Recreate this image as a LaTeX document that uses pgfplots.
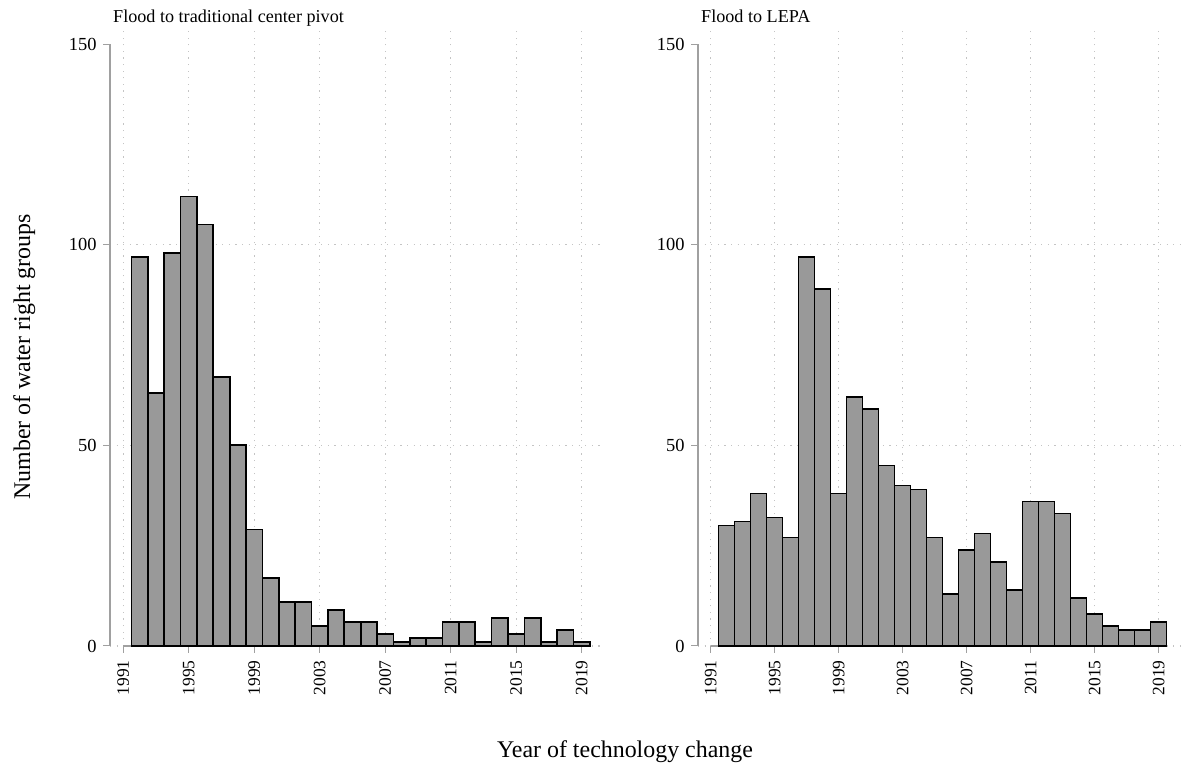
\documentclass[border=0pt]{standalone}
\usepackage{fontspec}
\setmainfont{Liberation Serif}
\usepackage{pgfplots}
\pgfplotsset{compat=1.18}
\definecolor{barfill}{HTML}{999999}
\definecolor{axgray}{HTML}{A0A0A0}
\definecolor{gridgray}{HTML}{C4C4C4}
\pgfplotsset{
 histo/.style={
  scale only axis, height=616bp, anchor=south west,
  ymin=0, ymax=153.5,
  axis line style={draw=none},
  tick pos=left,
  tick align=outside,
  major tick length=7bp,
  tick style={axgray, line width=1bp},
  xtick={1991,1995,...,2019},
  ytick={0,50,100,150},
  xmajorgrids,
  grid style={gridgray, line width=1.1bp, dash pattern=on 1.1bp off 5.5bp},
  extra y ticks={0,50,100}, extra y tick labels={},
  extra y tick style={grid=major, major tick length=0pt},
  xticklabel shift=4bp,
  yticklabel shift=3bp,
  x tick label style={rotate=90, anchor=east, font=\fontsize{17.5}{17.5}\selectfont},
  y tick label style={font=\fontsize{18.5}{18.5}\selectfont},
  /pgf/number format/assume math mode=true,
  /pgf/number format/1000 sep={},
  clip=false,
 },
 bars/.style={ybar, bar width=1, bar shift=0pt, fill=barfill, draw=black, line width=1.7bp},
}
\begin{document}
\begin{tikzpicture}
\useasboundingbox (0bp,0bp) rectangle (1185bp,768bp);
% left panel
\begin{axis}[histo, at={(110bp,122bp)}, width=490bp, xmin=1990.19, xmax=2020.12]
\draw[axgray, line width=1.2bp] (axis cs:1990.19,0) -- (axis cs:1990.19,150);
\draw[axgray, line width=1.2bp] (axis cs:1991,0) -- (axis cs:2019.5,0);
\addplot[bars] coordinates {
(1992,97) (1993,63) (1994,98) (1995,112) (1996,105) (1997,67) (1998,50)
(1999,29) (2000,17) (2001,11) (2002,11) (2003,5) (2004,9) (2005,6)
(2006,6) (2007,3) (2008,1) (2009,2) (2010,2) (2011,6) (2012,6)
(2013,1) (2014,7) (2015,3) (2016,7) (2017,1) (2018,4) (2019,1)};
\end{axis}
% right panel
\begin{axis}[histo, at={(698bp,122bp)}, width=487bp, xmin=1990.21, xmax=2020.65]
\draw[axgray, line width=1.2bp] (axis cs:1990.21,0) -- (axis cs:1990.21,150);
\draw[axgray, line width=1.2bp] (axis cs:1991,0) -- (axis cs:2019.5,0);
\addplot[bars] coordinates {
(1992,30) (1993,31) (1994,38) (1995,32) (1996,27) (1997,97) (1998,89)
(1999,38) (2000,62) (2001,59) (2002,45) (2003,40) (2004,39) (2005,27)
(2006,13) (2007,24) (2008,28) (2009,21) (2010,14) (2011,36) (2012,36)
(2013,33) (2014,12) (2015,8) (2016,5) (2017,4) (2018,4) (2019,6)};
\end{axis}
\node[anchor=base west, font=\fontsize{18.2}{18.2}\selectfont, inner sep=0pt] at (113bp,745bp) {Flood to traditional center pivot};
\node[anchor=base west, font=\fontsize{18.2}{18.2}\selectfont, inner sep=0pt] at (701bp,745bp) {Flood to LEPA};
\node[rotate=90, anchor=base, font=\fontsize{24}{24}\selectfont, inner sep=0pt] at (30bp,411bp) {Number of water right groups};
\node[anchor=base, font=\fontsize{24}{24}\selectfont, inner sep=0pt] at (625bp,11bp) {Year of technology change};
\end{tikzpicture}
\end{document}
